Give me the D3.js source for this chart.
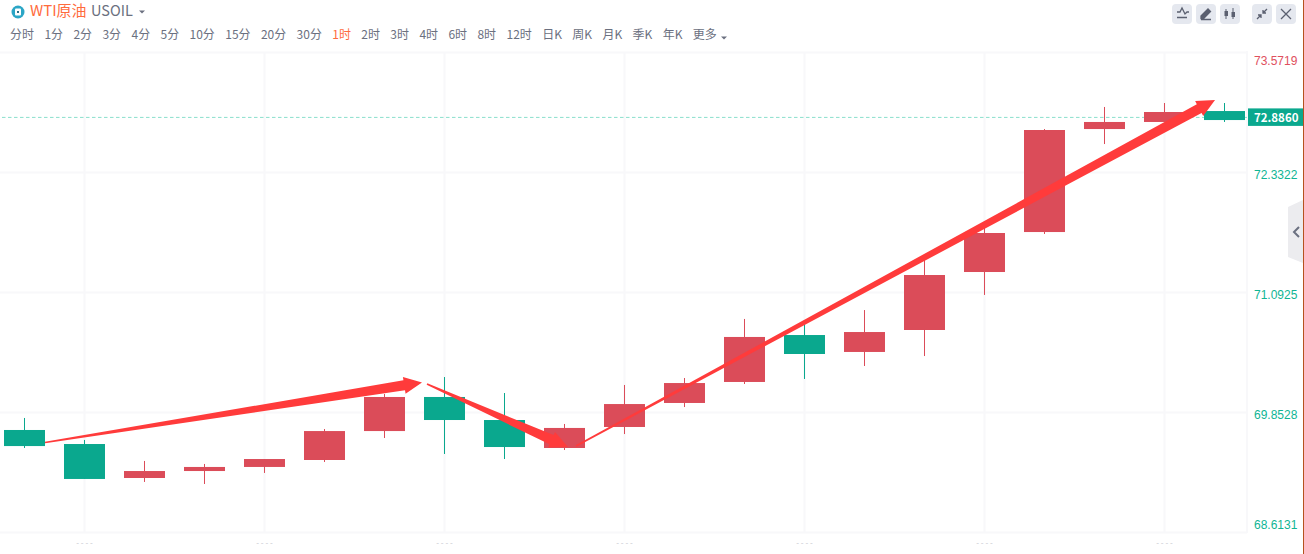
<!DOCTYPE html>
<html>
<head>
<meta charset="utf-8">
<script src="https://cdn.jsdelivr.net/npm/d3@7"></script>
<style>
    html, body { margin: 0; padding: 0; background: #fff; overflow: hidden; }
    svg { display: block; font-family: "Noto Sans CJK SC", "Noto Sans", sans-serif; }
</style>
</head>
<body>
<svg id="chart" width="1304" height="554"></svg>
<script>
// candle values, one entry per hour
const opens  = [69.667, 69.522, 69.171, 69.243, 69.285, 69.357, 69.656, 70.008, 69.770, 69.481, 69.698, 69.946, 70.163, 70.648, 70.473, 70.700, 71.299, 71.712, 72.776, 72.849, 72.962];
const closes = [69.501, 69.161, 69.243, 69.285, 69.367, 69.656, 70.008, 69.770, 69.491, 69.688, 69.935, 70.152, 70.628, 70.452, 70.679, 71.268, 71.702, 72.766, 72.849, 72.952, 72.869];
const highs  = [69.791, 69.564, 69.347, 69.316, 69.367, 69.677, 70.039, 70.214, 70.049, 69.729, 70.132, 70.204, 70.814, 70.783, 70.906, 71.444, 71.774, 72.776, 73.004, 73.045, 73.045];
const lows   = [69.481, 69.161, 69.130, 69.109, 69.223, 69.336, 69.584, 69.419, 69.367, 69.460, 69.625, 69.904, 70.142, 70.194, 70.328, 70.431, 71.062, 71.692, 72.621, 72.849, 72.849];

const priceTicks = [73.5719, 72.3322, 71.0925, 69.8528, 68.6131];
const lastPrice = 72.8860;
const gridCandles = [1, 4, 7, 10, 13, 16, 19];

// hand drawn arrows: [candle index, price] at tail and tip
const arrowTails = [[0.342, 69.538], [6.708, 70.142], [9.192, 69.501]];
const arrowTips  = [[6.625, 70.158], [9.058, 69.491], [19.842, 73.076]];

const periods = ["分时", "1分", "2分", "3分", "4分", "5分", "10分", "15分", "20分", "30分", "1时", "2时", "3时", "4时", "6时", "8时", "12时", "日K", "周K", "月K", "季K", "年K", "更多"];
const activePeriod = "1时";

const RED = "#db4c59", GREEN = "#0aa88e", ARROW = "#ff3b3b", GRID = "#f8f8fa", GREY = "#6b7080";

const svg = d3.select("#chart");
const candleIds = d3.range(opens.length);

const x = d3.scaleBand()
    .domain(candleIds)
    .range([-5.5, 1254.5])
    .paddingInner(19 / 60)
    .paddingOuter(19 / 120);
const xCenter = i => x(i) + x.bandwidth() / 2;
const xPos = d3.scaleLinear().domain([0, 20]).range([xCenter(0), xCenter(20)]);
const y = d3.scaleLinear().domain([68.6131, 73.5719]).range([532, 52]);

const plotRight = 1247;

// grid
const grid = svg.append("g");
grid.append("g")
    .call(d3.axisLeft(y).tickValues(priceTicks).tickSize(-plotRight).tickFormat(""))
    .call(g => g.select(".domain").remove())
    .selectAll("line").attr("stroke", GRID).attr("stroke-width", 2);
grid.append("g")
    .selectAll("line").data(gridCandles).enter().append("line")
    .attr("x1", d => xCenter(d)).attr("x2", d => xCenter(d))
    .attr("y1", 52).attr("y2", 533)
    .attr("stroke", GRID).attr("stroke-width", 2);
grid.append("line")
    .attr("x1", plotRight).attr("x2", plotRight).attr("y1", 51).attr("y2", 533)
    .attr("stroke", GRID).attr("stroke-width", 2);

// bottom time labels are cut off in the picture, only faint specks remain
svg.append("g").selectAll("text").data(gridCandles).enter().append("text")
    .attr("x", d => xCenter(d))
    .attr("y", 546)
    .attr("text-anchor", "middle")
    .attr("font-size", 8)
    .attr("fill", "#c4c6cd")
    .text("- - - -");

// last price guide
const lastY = y(lastPrice) - 1;
svg.append("line")
    .attr("x1", 2).attr("x2", plotRight).attr("y1", lastY).attr("y2", lastY)
    .attr("stroke", "#8adfcc").attr("stroke-dasharray", "3.5,2.5");

// candles
const candles = svg.append("g").selectAll("g").data(candleIds).enter().append("g")
    .attr("fill", i => closes[i] >= opens[i] ? RED : GREEN)
    .attr("stroke", i => closes[i] >= opens[i] ? RED : GREEN);
candles.append("line")
    .attr("x1", i => xCenter(i)).attr("x2", i => xCenter(i))
    .attr("y1", i => y(highs[i])).attr("y2", i => y(lows[i]));
candles.append("rect")
    .attr("stroke", "none")
    .attr("x", i => x(i))
    .attr("width", x.bandwidth())
    .attr("y", i => y(Math.max(opens[i], closes[i])))
    .attr("height", i => Math.abs(y(opens[i]) - y(closes[i])));

// arrows taper from a thin tail up to the head
function arrowPath(tail, tip) {
    const x0 = xPos(tail[0]), y0 = y(tail[1]), x1 = xPos(tip[0]), y1 = y(tip[1]);
    const len = Math.hypot(x1 - x0, y1 - y0);
    const ux = (x1 - x0) / len, uy = (y1 - y0) / len;
    const px = -uy, py = ux;
    const headLen = 18, headHalf = 8.5, shaftHalf = 5, tailHalf = 0.8;
    const bx = x1 - ux * headLen, by = y1 - uy * headLen;
    const pts = [
        [x0 + px * tailHalf, y0 + py * tailHalf],
        [bx + px * shaftHalf, by + py * shaftHalf],
        [bx + px * headHalf, by + py * headHalf],
        [x1, y1],
        [bx - px * headHalf, by - py * headHalf],
        [bx - px * shaftHalf, by - py * shaftHalf],
        [x0 - px * tailHalf, y0 - py * tailHalf]
    ];
    return d3.line()(pts) + "Z";
}
svg.append("g").selectAll("path").data(arrowTails).enter().append("path")
    .attr("d", (d, i) => arrowPath(d, arrowTips[i]))
    .attr("fill", ARROW);

// price axis
const axis = svg.append("g")
    .attr("transform", "translate(" + (plotRight + 7) + ",0)")
    .call(d3.axisRight(y).tickValues(priceTicks).tickSize(0).tickPadding(0).tickFormat(d3.format(".4f")));
axis.select(".domain").remove();
axis.selectAll("text")
    .attr("font-family", "inherit")
    .attr("font-size", 12)
    .attr("fill", d => d > lastPrice ? "#e0505e" : "#10b594")
    .attr("dy", (d, i) => i === 0 ? "1.03em" : i === priceTicks.length - 1 ? "-0.27em" : "0.5em");

// last price tag
svg.append("rect")
    .attr("x", plotRight + 1).attr("y", lastY - 9).attr("width", 55).attr("height", 17.5)
    .attr("fill", GREEN);
svg.append("text")
    .attr("x", plotRight + 7).attr("y", lastY + 5)
    .attr("font-size", 11.5).attr("font-weight", 700).attr("fill", "#fff")
    .text(d3.format(".4f")(lastPrice));

// header
const logo = svg.append("g").attr("transform", "translate(18,12)");
logo.append("circle").attr("r", 6.5).attr("fill", "#2ba6c6");
logo.append("rect").attr("x", -3).attr("y", -3.5).attr("width", 6).attr("height", 7).attr("rx", 1).attr("fill", "#fff");
logo.append("rect").attr("x", -1).attr("y", -1).attr("width", 2).attr("height", 2).attr("fill", "#2b6f86");
svg.append("text").attr("x", 30).attr("y", 16).attr("font-size", 15).attr("fill", "#ff6b3d").text("WTI原油");
svg.append("text").attr("x", 91).attr("y", 16).attr("font-size", 14.5).attr("fill", GREY).text("USOIL");
svg.append("path").attr("d", "M139,10.5h6l-3,3Z").attr("fill", GREY);

// period tabs are laid out one after the other
let tabX = 10;
periods.forEach(function (p) {
    const t = svg.append("text")
        .attr("x", tabX).attr("y", 39)
        .attr("font-size", 12)
        .attr("fill", p === activePeriod ? "#ff6b3d" : GREY)
        .text(p);
    tabX += t.node().getComputedTextLength() + 10.36;
});
svg.append("path").attr("d", "M721,36.5h6l-3,3Z").attr("fill", GREY);

// toolbar buttons
const buttons = [1172, 1196, 1220, 1252, 1276];
svg.append("g").selectAll("rect").data(buttons).enter().append("rect")
    .attr("x", d => d).attr("y", 4).attr("width", 20).attr("height", 20).attr("rx", 4)
    .attr("fill", "#e5e8ef");
const icons = svg.append("g").attr("fill", "none").attr("stroke", "#5b6070").attr("stroke-width", 1.3);
icons.append("path").attr("d", "M1177,12h3l2,-4l3,6l2,-2h2M1177,17.5h10");
icons.append("path").attr("d", "M1201,16l7,-7l2.5,2.5l-7,7h-2.5ZM1201,19.5h10").attr("fill", "#5b6070");
icons.append("path").attr("d", "M1226,9v10M1233,8v11").attr("stroke-width", 1);
icons.append("rect").attr("x", 1224.5).attr("y", 11).attr("width", 3.5).attr("height", 5).attr("fill", "#5b6070").attr("stroke", "none");
icons.append("rect").attr("x", 1231.5).attr("y", 12).attr("width", 3.5).attr("height", 5).attr("fill", "#5b6070").attr("stroke", "none");
icons.append("path").attr("d", "M1257,19l4,-4M1261,18v-3h-3M1267,9l-4,4M1263,10v3h3");
icons.append("path").attr("d", "M1281,9l10,10M1291,9l-10,10");

// collapse handle on the right edge
svg.append("path").attr("d", "M1303,200L1288,207V257L1303,263Z").attr("fill", "#ececef");
svg.append("path").attr("d", "M1299,227l-5,5l5,5").attr("fill", "none").attr("stroke", GREY).attr("stroke-width", 2);

// right border
svg.append("line").attr("x1", 1303.5).attr("x2", 1303.5).attr("y1", 0).attr("y2", 554)
    .attr("stroke", "#b5521f");
</script>
</body>
</html>
